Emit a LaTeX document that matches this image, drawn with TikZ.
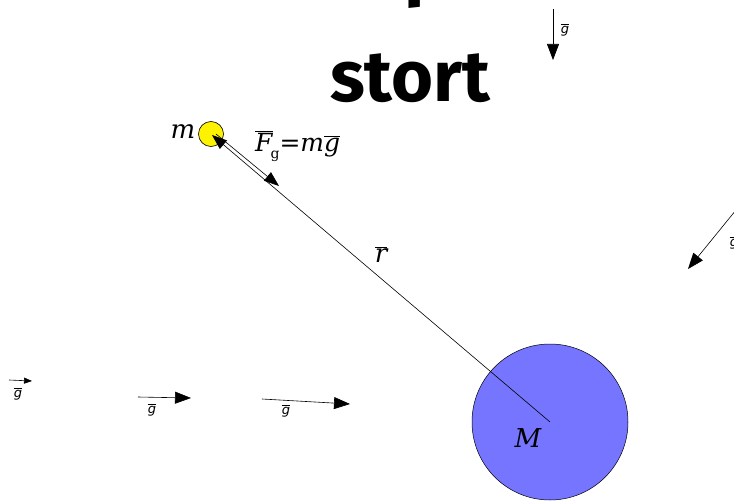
\documentclass[tikz,border=0pt]{standalone}
\usepackage{fontspec}
\usetikzlibrary{arrows.meta}
\newfontfamily\labfont{DejaVu Serif}
\newfontfamily\gfont{DejaVu Sans}
\newfontfamily\bigfont{Fira Sans}
\newcommand\ovl[1]{$\overline{\hbox{#1}}$}
\tikzset{
  vec/.style={draw=black, line width=0.6pt, -{Triangle[length=15pt,width=11pt]}},
  gvec/.style={draw=black, line width=0.6pt, -{Triangle[length=16pt,width=12pt]}},
  glab/.style={font=\gfont\fontsize{13}{13}\selectfont\itshape, inner sep=0pt},
  mlab/.style={font=\labfont\fontsize{26}{26}\selectfont\itshape, inner sep=0pt},
}
\begin{document}
\begin{tikzpicture}[x=1pt,y=-1pt]
\useasboundingbox[fill=white] (0,0) rectangle (734,503);
% title fragments
\node[font=\bigfont\bfseries\fontsize{72}{72}\selectfont, anchor=base, inner sep=0pt] (title) at (410,102) {stort};
\node[font=\bigfont\bfseries\fontsize{72}{72}\selectfont, anchor=base west, inner sep=0pt] (above) at (404,-7) {p};
% masses
\node[circle, draw=black, fill=blue!54, minimum size=156pt, inner sep=0pt, line width=0.5pt] (big) at (550,422) {};
\node[mlab] (M) at (528,438) {M};
\node[circle, draw=black, fill=yellow, minimum size=25pt, inner sep=0pt, line width=0.6pt] (small) at (211,134) {};
\node[mlab] (mlab) at (183,132) {m};
% r vector and force
\coordinate (mc) at (212,135);
\coordinate (Fs) at (216,134);
\coordinate (Fe) at (279,186);
\draw[vec] (big.center) -- (mc);
\draw[vec] (Fs) -- (Fe);
\node[mlab] (rlab) at (381,255) {\ovl{r}};
\node[mlab, anchor=west, font=\labfont\fontsize{25}{25}\selectfont\itshape] (Flab) at (255,146) {\ovl{F}\kern-2pt\raisebox{-7pt}{\upshape\fontsize{14}{14}\selectfont g}\upshape=\itshape m\ovl{g}};
% g field arrows
\coordinate (g1s) at (553,9);   \coordinate (g1e) at (553,60);
\coordinate (g2s) at (736,210); \coordinate (g2e) at (688,269);
\coordinate (g3s) at (9,380);   \coordinate (g3e) at (32,381);
\coordinate (g4s) at (138,397); \coordinate (g4e) at (191,398);
\coordinate (g5s) at (262,399); \coordinate (g5e) at (350,404);
\draw[gvec] (g1s) -- (g1e);
\draw[gvec] (g2s) -- (g2e);
\draw[draw=black, line width=0.6pt, -{Triangle[length=8pt,width=6pt]}] (g3s) -- (g3e);
\draw[gvec] (g4s) -- (g4e);
\draw[gvec] (g5s) -- (g5e);
\node[glab] (g1) at (565,30) {\ovl{g}};
\node[glab] (g2) at (734,243) {\ovl{g}};
\node[glab] (g3) at (18,394) {\ovl{g}};
\node[glab] (g4) at (152,410) {\ovl{g}};
\node[glab] (g5) at (286,411) {\ovl{g}};
\end{tikzpicture}
\end{document}
